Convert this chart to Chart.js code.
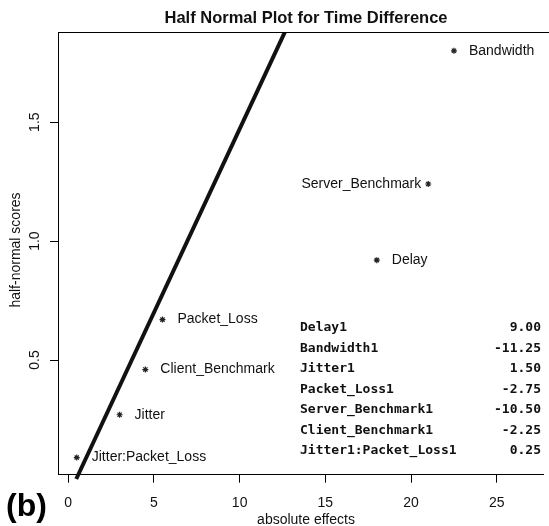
<!DOCTYPE html>
<html>
<head>
<meta charset="utf-8">
<script src="https://cdn.jsdelivr.net/npm/chart.js@4"></script>
<style>
  body { margin: 0; background: #fff; }
  #wrap { width: 549px; height: 526px; }
</style>
</head>
<body>
<div id="wrap"><canvas id="myChart" width="549" height="526"></canvas></div>
<script>
// 1. Datos
const effectNames = ['Jitter:Packet_Loss', 'Jitter', 'Client_Benchmark', 'Packet_Loss', 'Delay', 'Server_Benchmark', 'Bandwidth'];
const absEffects = [0.5, 3.0, 4.5, 5.5, 18.0, 21.0, 22.5];
const hnScores = [0.09, 0.27, 0.46, 0.67, 0.92, 1.24, 1.80];
const leftLabels = ['Server_Benchmark'];

const coefNames = ['Delay1', 'Bandwidth1', 'Jitter1', 'Packet_Loss1', 'Server_Benchmark1', 'Client_Benchmark1', 'Jitter1:Packet_Loss1'];
const coefValues = [9.00, -11.25, 1.50, -2.75, -10.50, -2.25, 0.25];

const lineX = [0.47, 13.1];
const lineY = [0, 1.95];

const xTicks = [0, 5, 10, 15, 20, 25];
const yTicks = [0.5, 1.0, 1.5];

const SANS = '"Liberation Sans", Arial, sans-serif';

// 2. Textos y marco superior
const annotations = {
    id: 'annotations',
    afterDraw(chart) {
        const { ctx, chartArea: a, scales: { x, y } } = chart;
        ctx.save();
        ctx.strokeStyle = '#000';
        ctx.lineWidth = 1;
        ctx.beginPath();
        ctx.moveTo(a.left, a.top + 0.5);
        ctx.lineTo(chart.width, a.top + 0.5);
        ctx.stroke();

        ctx.fillStyle = '#111';
        ctx.textBaseline = 'middle';
        ctx.textAlign = 'center';
        ctx.font = 'bold 16.5px ' + SANS;
        ctx.fillText('Half Normal Plot for Time Difference', 306, 18);

        ctx.font = '14px ' + SANS;
        ctx.fillText('absolute effects', 306, 520);

        ctx.save();
        ctx.translate(16, 250);
        ctx.rotate(-Math.PI / 2);
        ctx.fillText('half-normal scores', 0, 0);
        ctx.restore();

        // etiquetas de los puntos
        effectNames.forEach((name, i) => {
            const px = x.getPixelForValue(absEffects[i]);
            const py = y.getPixelForValue(hnScores[i]);
            if (leftLabels.includes(name)) {
                ctx.textAlign = 'right';
                ctx.fillText(name, px - 7, py);
            } else {
                ctx.textAlign = 'left';
                ctx.fillText(name, px + 15, py);
            }
        });

        // tabla de coeficientes
        ctx.font = 'bold 13px "DejaVu Sans Mono", monospace';
        coefNames.forEach((name, i) => {
            const ry = 328 + i * 20.5;
            ctx.textAlign = 'left';
            ctx.fillText(name, 300, ry);
            ctx.textAlign = 'right';
            ctx.fillText(coefValues[i].toFixed(2), 541, ry);
        });

        ctx.textAlign = 'left';
        ctx.textBaseline = 'alphabetic';
        ctx.font = 'bold 32px ' + SANS;
        ctx.fillStyle = '#000';
        ctx.fillText('(b)', 6, 516);
        ctx.restore();
    }
};

// 3. Gráfico
const ctx = document.getElementById('myChart').getContext('2d');
new Chart(ctx, {
    type: 'scatter',
    data: {
        datasets: [
            {
                type: 'line',
                data: lineX.map((v, i) => ({ x: v, y: lineY[i] })),
                borderColor: '#111',
                borderWidth: 4,
                pointRadius: 0,
                clip: { left: 0, top: 0, right: 0, bottom: 6 }
            },
            {
                data: absEffects.map((v, i) => ({ x: v, y: hnScores[i] })),
                pointStyle: 'star',
                pointRadius: 3,
                borderColor: '#222',
                borderWidth: 1.2
            }
        ]
    },
    options: {
        responsive: false,
        animation: false,
        devicePixelRatio: 1,
        layout: { padding: { top: 32, left: 0, right: 0, bottom: 0 } },
        plugins: { legend: { display: false }, tooltip: { enabled: false }, title: { display: false } },
        scales: {
            x: {
                type: 'linear',
                min: -0.594,
                max: 27.74,
                afterBuildTicks: s => { s.ticks = xTicks.map(v => ({ value: v })); },
                afterFit: s => { s.height = 51.3; },
                ticks: {
                    callback: v => String(v),
                    color: '#111',
                    font: { family: SANS, size: 14 },
                    padding: 12,
                    maxRotation: 0
                },
                grid: { drawOnChartArea: false, drawTicks: true, tickLength: 8, color: '#000' },
                border: { display: true, color: '#000', width: 1 }
            },
            y: {
                type: 'linear',
                min: 0.018,
                max: 1.879,
                afterBuildTicks: s => { s.ticks = yTicks.map(v => ({ value: v })); },
                afterFit: s => { s.width = 58; },
                ticks: {
                    callback: v => v.toFixed(1),
                    color: '#111',
                    font: { family: SANS, size: 14 },
                    padding: 5,
                    minRotation: 90,
                    maxRotation: 90,
                    crossAlign: 'center'
                },
                grid: { drawOnChartArea: false, drawTicks: true, tickLength: 8, color: '#000' },
                border: { display: true, color: '#000', width: 1 }
            }
        }
    },
    plugins: [annotations]
});
</script>
</body>
</html>
